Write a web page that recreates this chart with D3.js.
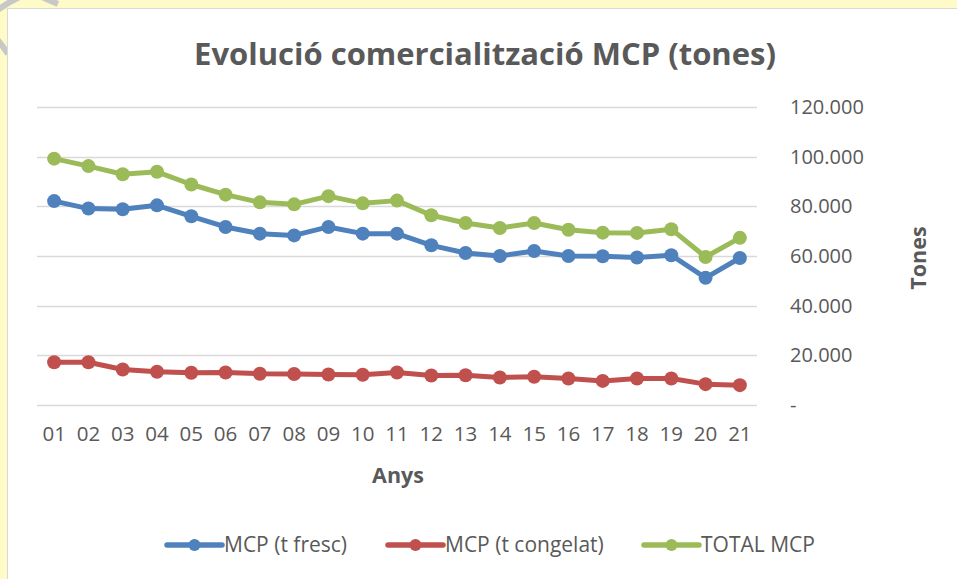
<!DOCTYPE html>
<html>
<head>
<meta charset="utf-8">
<script src="https://cdn.jsdelivr.net/npm/d3@7"></script>
<style>
  html, body { margin: 0; padding: 0; background: #fffbc8; }
  svg { display: block; }
  text { font-family: "Open Sans", "Noto Sans", sans-serif; fill: #595959; }
</style>
</head>
<body>
<div id="chart"></div>
<script>
// anys (2001-2021)
var years = ["01","02","03","04","05","06","07","08","09","10","11","12","13","14","15","16","17","18","19","20","21"];

// tones
var fresc = [82100, 79100, 78800, 80400, 76000, 71700, 69000, 68300, 71700, 69000, 69000, 64300, 61200, 60000, 62000, 60000, 59900, 59400, 60300, 51200, 59200];
var congelat = [17200, 17200, 14300, 13400, 13000, 13100, 12600, 12500, 12300, 12200, 13100, 11900, 12000, 11100, 11400, 10700, 9700, 10700, 10700, 8400, 8000];
var total = [99200, 96200, 92900, 93900, 88800, 84700, 81600, 80800, 84100, 81200, 82300, 76400, 73300, 71300, 73300, 70600, 69400, 69300, 70800, 59600, 67300];

var yTicks = [0, 20000, 40000, 60000, 80000, 100000, 120000];
var seriesNames = ["MCP (t fresc)", "MCP (t congelat)", "TOTAL MCP"];
var seriesColors = ["#4f81bd", "#c0504d", "#9bbb59"];

var W = 957, H = 579;
var svg = d3.select("#chart").append("svg").attr("width", W).attr("height", H);

// bits of the watermark behind the chart
svg.append("path")
  .attr("d", "M-5,12 Q8,2 22,-4 M40,-4 Q48,0 58,4 M-4,38 Q3,46 8,54")
  .attr("fill", "none").attr("stroke", "#c8c8c8").attr("stroke-width", 6);

// chart area
svg.append("rect")
  .attr("x", 7.5).attr("y", 8.5)
  .attr("width", W).attr("height", H)
  .attr("fill", "#fff").attr("stroke", "#d9d9d9");

var x = d3.scaleBand().domain(years).range([37, 757]);
var y = d3.scaleLinear().domain([0, 120000]).range([405, 107]);

// grid
svg.append("g")
  .selectAll("line").data(yTicks).enter().append("line")
  .attr("x1", 37).attr("x2", 757)
  .attr("y1", function(d){ return Math.round(y(d)) + 0.5; })
  .attr("y2", function(d){ return Math.round(y(d)) + 0.5; })
  .attr("stroke", "#d9d9d9").attr("stroke-width", 1.5);

// y axis on the right
var fmt = function(d){ return d === 0 ? "-" : d3.format(",")(d).replace(/,/g, "."); };
var yAxis = svg.append("g")
  .attr("transform", "translate(790,0)")
  .call(d3.axisRight(y).tickValues(yTicks).tickFormat(fmt).tickSize(0).tickPadding(0));
yAxis.select(".domain").remove();
yAxis.selectAll("text")
  .attr("font-size", 20)
  .attr("font-family", "Open Sans")
  .attr("fill", "#595959")
  .attr("text-anchor", "start");

// x axis
var xAxis = svg.append("g")
  .attr("transform", "translate(0,426)")
  .call(d3.axisBottom(x).tickSize(0).tickPadding(0));
xAxis.select(".domain").remove();
xAxis.selectAll("text")
  .attr("font-size", 20.5)
  .attr("font-family", "Open Sans")
  .attr("fill", "#595959");

// titles
svg.append("text")
  .attr("x", 485).attr("y", 65)
  .attr("text-anchor", "middle")
  .attr("font-size", 31).attr("font-weight", "bold")
  .text("Evolució comercialització MCP (tones)");

svg.append("text")
  .attr("x", 398).attr("y", 483)
  .attr("text-anchor", "middle")
  .attr("font-size", 21.5).attr("font-weight", "bold")
  .text("Anys");

svg.append("text")
  .attr("transform", "translate(926,258) rotate(-90)")
  .attr("text-anchor", "middle")
  .attr("font-size", 21.5).attr("font-weight", "bold")
  .text("Tones");

// series
var series = [fresc, congelat, total];
var line = d3.line()
  .x(function(d, i){ return x(years[i]) + x.bandwidth() / 2; })
  .y(function(d){ return y(d); });

series.forEach(function(vals, k){
  var g = svg.append("g");
  g.append("path")
    .datum(vals)
    .attr("d", line)
    .attr("fill", "none")
    .attr("stroke", seriesColors[k])
    .attr("stroke-width", 5)
    .attr("stroke-linejoin", "round")
    .attr("stroke-linecap", "round");
  g.selectAll("circle").data(vals).enter().append("circle")
    .attr("cx", function(d, i){ return x(years[i]) + x.bandwidth() / 2; })
    .attr("cy", function(d){ return y(d); })
    .attr("r", 7)
    .attr("fill", seriesColors[k]);
});

// legend
var legendX = [167, 388, 644];
var lg = svg.append("g").selectAll("g").data(seriesNames).enter().append("g")
  .attr("transform", function(d, i){ return "translate(" + legendX[i] + ",545)"; });
lg.append("line")
  .attr("x1", 0).attr("x2", 55).attr("y1", 0).attr("y2", 0)
  .attr("stroke", function(d, i){ return seriesColors[i]; })
  .attr("stroke-width", 5.5).attr("stroke-linecap", "round");
lg.append("circle")
  .attr("cx", 27.5).attr("cy", 0).attr("r", 6)
  .attr("fill", function(d, i){ return seriesColors[i]; });
lg.append("text")
  .attr("x", 57).attr("y", 0).attr("dy", "0.35em")
  .attr("font-size", 21)
  .text(function(d){ return d; });
</script>
</body>
</html>
